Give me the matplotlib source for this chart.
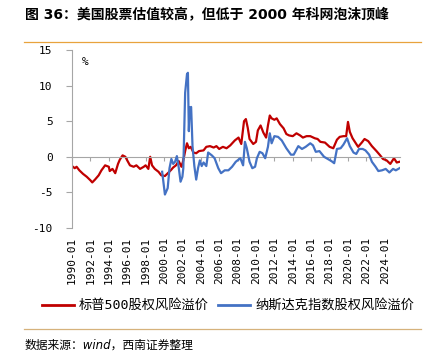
import matplotlib
matplotlib.use("Agg")
import matplotlib.pyplot as plt
from matplotlib.lines import Line2D

plt.rcParams['font.family'] = ['DejaVu Sans Mono', 'Noto Sans CJK SC']
plt.rcParams['axes.unicode_minus'] = False

# decimal years
spx_years = [1990.0, 1990.3, 1990.5, 1990.8, 1991.2, 1991.6, 1992.0, 1992.2, 1992.5, 1992.9,
             1993.2, 1993.6, 1994.0, 1994.1, 1994.4, 1994.7, 1995.0, 1995.2, 1995.5, 1995.8,
             1996.0, 1996.3, 1996.7, 1997.0, 1997.4, 1997.8, 1998.0, 1998.3, 1998.5, 1998.7,
             1999.0, 1999.4, 1999.7, 2000.1, 2000.5, 2000.8, 2001.0, 2001.3, 2001.6, 2001.9,
             2002.1, 2002.3, 2002.5, 2002.7, 2002.9, 2003.2, 2003.5, 2003.8, 2004.3, 2004.6,
             2005.0, 2005.4, 2005.7, 2006.0, 2006.4, 2006.8, 2007.2, 2007.7, 2008.1, 2008.4,
             2008.7, 2008.9, 2009.1, 2009.3, 2009.7, 2010.0, 2010.2, 2010.5, 2010.8, 2011.1,
             2011.3, 2011.5, 2011.7, 2012.0, 2012.25, 2012.6, 2013.0, 2013.3, 2013.6, 2014.0,
             2014.4, 2014.8, 2015.1, 2015.5, 2015.9, 2016.4, 2016.7, 2017.0, 2017.5, 2018.0,
             2018.4, 2018.8, 2019.1, 2019.5, 2019.8, 2020.0, 2020.2, 2020.5, 2020.8, 2021.1,
             2021.5, 2021.8, 2022.2, 2022.6, 2023.1, 2023.5, 2023.8, 2024.2, 2024.6, 2025.0,
             2025.3, 2025.6]
spx_erp = [-1.3, -1.6, -1.4, -1.9, -2.4, -2.8, -3.3, -3.6, -3.2, -2.6,
           -1.9, -1.2, -1.4, -2.0, -1.7, -2.3, -1.0, -0.4, 0.2, 0.0,
           -0.5, -1.2, -1.4, -1.2, -1.7, -1.4, -1.2, -1.7, 0.0, -1.2,
           -1.7, -2.1, -2.6, -2.7, -2.2, -1.8, -1.5, -1.2, -0.6, -1.4,
           -0.5, 0.8, 1.9, 1.2, 1.4, 0.6, 0.5, 0.8, 0.9, 1.4,
           1.5, 1.3, 1.5, 1.1, 1.4, 1.2, 1.6, 2.3, 2.7, 1.8,
           5.0, 5.3, 4.1, 2.5, 1.8, 2.1, 3.7, 4.4, 3.4, 2.7,
           4.4, 5.8, 5.4, 5.2, 5.4, 4.6, 4.0, 3.2, 3.0, 2.9,
           3.3, 3.0, 2.7, 2.9, 2.9, 2.6, 2.5, 2.1, 2.0, 1.4,
           1.2, 2.4, 2.8, 2.9, 2.9, 4.9, 3.5, 2.6, 2.0, 1.4,
           2.0, 2.5, 2.2, 1.5, 0.8, 0.2, -0.3, -0.5, -1.0, -0.2,
           -0.8, -0.7]

ndx_years = [1999.8, 2000.1, 2000.4, 2000.6, 2000.8, 2001.0, 2001.2, 2001.4, 2001.6, 2001.8,
             2002.0, 2002.1, 2002.3, 2002.5, 2002.6, 2002.7, 2002.8, 2002.95, 2003.1, 2003.3,
             2003.5, 2003.7, 2003.9, 2004.1, 2004.3, 2004.6, 2004.8, 2005.2, 2005.5, 2005.9,
             2006.2, 2006.6, 2007.0, 2007.4, 2007.8, 2008.3, 2008.6, 2008.8, 2009.0, 2009.3,
             2009.6, 2009.9, 2010.1, 2010.4, 2010.7, 2011.0, 2011.3, 2011.5, 2011.7, 2012.0,
             2012.4, 2012.8, 2013.3, 2013.8, 2014.1, 2014.6, 2015.0, 2015.4, 2015.9, 2016.2,
             2016.5, 2016.9, 2017.4, 2017.8, 2018.2, 2018.5, 2018.8, 2019.2, 2019.5, 2019.9,
             2020.2, 2020.6, 2020.9, 2021.2, 2021.6, 2021.9, 2022.3, 2022.6, 2023.0, 2023.3,
             2023.7, 2024.1, 2024.5, 2024.9, 2025.2, 2025.6]
ndx_erp = [-2.1, -5.3, -4.4, -1.6, -0.3, -1.0, -0.7, 0.1, -1.5, -3.5,
           -2.8, -1.6, 9.0, 11.6, 11.8, 3.6, 6.9, 7.0, 1.5, -1.3,
           -3.2, -1.6, -0.5, -1.3, -0.8, -1.3, 0.6, 0.2, -0.2, -1.6,
           -2.3, -1.9, -1.9, -1.4, -0.7, -0.2, -1.2, 2.1, 1.2, -0.7,
           -1.6, -1.4, -0.2, 0.7, 0.5, -0.2, 1.4, 3.3, 1.9, 2.9,
           2.8, 2.3, 1.2, 0.3, 0.3, 1.5, 1.1, 1.4, 1.9, 1.6,
           0.7, 0.8, 0.0, -0.3, -0.6, -0.9, 1.1, 1.2, 1.7, 2.6,
           1.5, 0.6, 0.4, 1.1, 1.1, 0.9, 0.3, -0.7, -1.4, -2.0,
           -1.9, -1.7, -2.2, -1.7, -1.9, -1.6]

tick_years = list(range(1990, 2025, 2))
tick_labels = [f"{y}-01" for y in tick_years]

title = "图 36：美国股票估值较高，但低于 2000 年科网泡沫顶峰"
source = "数据来源：wind，西南证券整理"
red = "#C00000"
blue = "#4472C4"
grey = "#A6A6A6"

fig = plt.figure(figsize=(4.26, 3.6), dpi=100)
ax = fig.add_axes([72 / 426, 1 - 228 / 360, 327.5 / 426, 178 / 360])

ax.plot(spx_years, spx_erp, color=red, lw=1.6, zorder=2)
ax.plot(ndx_years, ndx_erp, color=blue, lw=1.6, zorder=3)

ax.set_xlim(1990, 2025.6)
ax.set_ylim(-10, 15)
ax.set_yticks(range(-10, 16, 5))
ax.tick_params(axis='y', direction='out', length=4, color=grey, pad=10, labelsize=8)

# x axis drawn along zero, labels below the plot
ax.spines['bottom'].set_position(('data', 0))
ax.spines['bottom'].set_color(grey)
ax.spines['left'].set_color(grey)
ax.spines['top'].set_visible(False)
ax.spines['right'].set_visible(False)
ax.set_xticks(tick_years)
ax.tick_params(axis='x', direction='out', length=3, color=grey, labelbottom=False)

sec = ax.secondary_xaxis(0)
sec.set_xticks(tick_years, tick_labels)
sec.tick_params(length=0, pad=6, labelsize=8, rotation=90)
sec.spines['bottom'].set_visible(False)

ax.text(0.03, 0.96, "%", transform=ax.transAxes, fontsize=8, va='top', ha='left')

# title, rules, legend, source
fig.text(25 / 426, 1 - 15 / 360, title, fontsize=10, fontweight='bold',
         family=['DejaVu Sans', 'Noto Sans CJK SC'], va='center', ha='left')
fig.add_artist(Line2D([24 / 426, 421 / 426], [1 - 41.7 / 360] * 2, color="#E8A33D", lw=0.9))
fig.add_artist(Line2D([24 / 426, 421 / 426], [1 - 329 / 360] * 2, color="#D6B27C", lw=0.9))

ly = 1 - 305 / 360
fig.add_artist(Line2D([42 / 426, 74 / 426], [ly, ly], color=red, lw=2))
fig.text(79 / 426, ly, "标普500股权风险溢价", fontsize=9.5, va='center', ha='left')
fig.add_artist(Line2D([218 / 426, 250 / 426], [ly, ly], color=blue, lw=2))
fig.text(255 / 426, ly, "纳斯达克指数股权风险溢价", fontsize=9.5, va='center', ha='left')

fig.text(25 / 426, 1 - 345 / 360, source, fontsize=8.5, style='italic',
         family=['DejaVu Sans', 'Noto Sans CJK SC'], va='center', ha='left')

fig.savefig("out.png", dpi=100)
